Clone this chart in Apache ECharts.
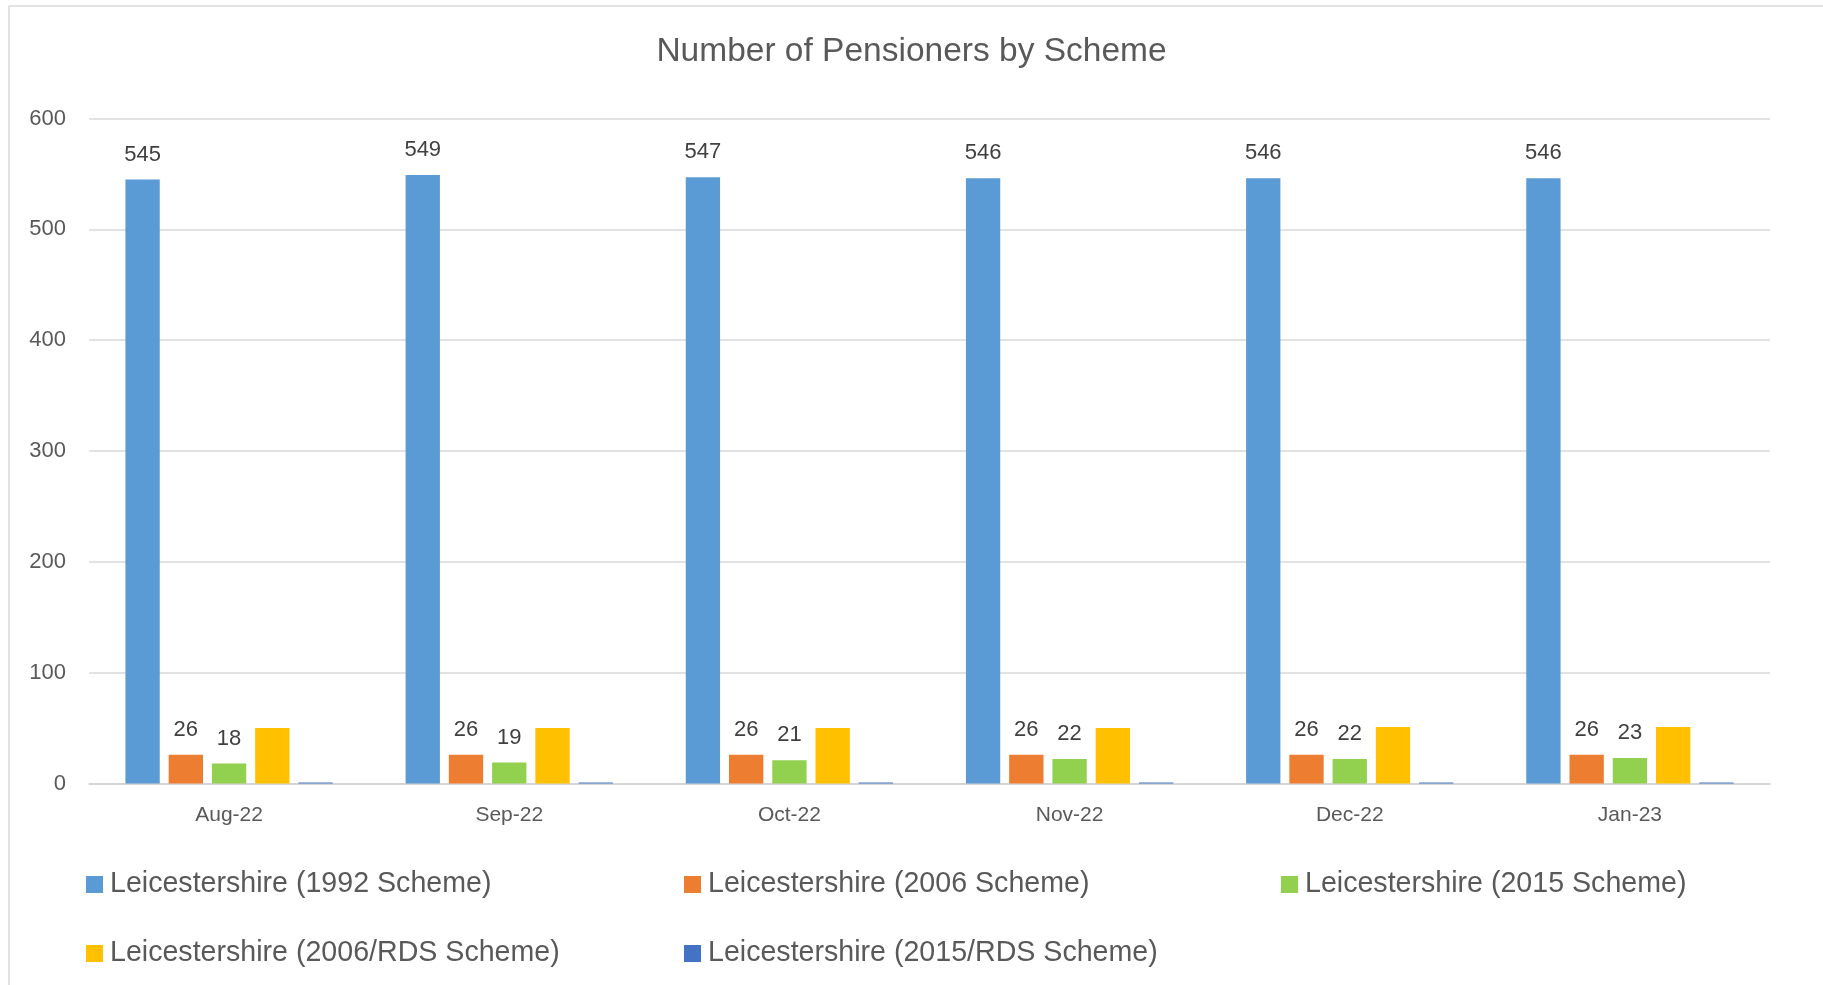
<!DOCTYPE html>
<html>
<head>
<meta charset="utf-8">
<title>Number of Pensioners by Scheme</title>
<script src="https://cdn.jsdelivr.net/npm/echarts@6/dist/echarts.min.js"></script>
<style>
  html, body { margin: 0; padding: 0; background: #fff; }
  #chart { width: 1823px; height: 985px; }
</style>
</head>
<body>
<div id="chart"></div>
<script>
// months on the x axis
var months = ['Aug-22', 'Sep-22', 'Oct-22', 'Nov-22', 'Dec-22', 'Jan-23']

// series names
var schemeNames = [
  'Leicestershire (1992 Scheme)',
  'Leicestershire (2006 Scheme)',
  'Leicestershire (2015 Scheme)',
  'Leicestershire (2006/RDS Scheme)',
  'Leicestershire (2015/RDS Scheme)'
]

// values
var scheme1992 = [545, 549, 547, 546, 546, 546]
var scheme2006 = [26, 26, 26, 26, 26, 26]
var scheme2015 = [18, 19, 21, 22, 22, 23]
var scheme2006Rds = [50, 50, 50, 50, 51, 51]
var scheme2015Rds = [1, 1, 1, 1, 1, 1]

var yTicks = [0, 100, 200, 300, 400, 500, 600]

var colors = ['#5B9BD5', '#ED7D31', '#92D050', '#FFC000', '#4472C4']
var font = '"Liberation Sans", Arial, sans-serif'

function barSeries (idx, values, showLabel) {
  return {
    name: schemeNames[idx],
    type: 'bar',
    data: values,
    barGap: '26%',
    barCategoryGap: '26%',
    itemStyle: { color: colors[idx] },
    label: {
      show: showLabel,
      position: 'top',
      distance: 14,
      color: '#404040',
      fontSize: 22,
      fontFamily: font
    },
    emphasis: { disabled: true }
  }
}

// one legend per item so they line up in columns like the original
var legendPos = [
  { left: 86, top: 870 },
  { left: 684, top: 870 },
  { left: 1281, top: 870 },
  { left: 86, top: 939 },
  { left: 684, top: 939 }
]
var legends = legendPos.map(function (p, i) {
  return {
    data: [schemeNames[i]],
    left: p.left,
    top: p.top,
    padding: 0,
    itemWidth: 17,
    itemHeight: 17,
    icon: 'rect',
    textStyle: {
      color: '#595959',
      fontSize: 28.6,
      fontFamily: font,
      lineHeight: 29,
      padding: [0, 0, 0, 2]
    }
  }
})

var chart = echarts.init(document.getElementById('chart'))
chart.setOption({
  animation: false,
  color: colors,
  title: {
    text: 'Number of Pensioners by Scheme',
    left: 'center',
    top: 35,
    padding: 0,
    textStyle: {
      color: '#595959',
      fontSize: 33.5,
      fontWeight: 'normal',
      fontFamily: font
    }
  },
  graphic: [{
    type: 'rect',
    shape: { x: 9, y: 6, width: 2000, height: 2000 },
    style: { fill: 'none', stroke: '#d9d9d9', lineWidth: 1.5 },
    silent: true
  }],
  legend: legends,
  grid: {
    left: 89,
    right: 53,
    top: 118.5,
    bottom: 201.5,
    containLabel: false
  },
  xAxis: {
    type: 'category',
    data: months,
    axisLine: { lineStyle: { color: '#d0d0d0', width: 1.5 } },
    axisTick: { show: false },
    axisLabel: {
      color: '#595959',
      fontSize: 21,
      fontFamily: font,
      margin: 21
    }
  },
  yAxis: {
    type: 'value',
    min: yTicks[0],
    max: yTicks[yTicks.length - 1],
    interval: 100,
    axisLine: { show: false },
    axisTick: { show: false },
    splitLine: { lineStyle: { color: '#d9d9d9', width: 1.5 } },
    axisLabel: {
      color: '#595959',
      fontSize: 22,
      fontFamily: font,
      margin: 23
    }
  },
  series: [
    barSeries(0, scheme1992, true),
    barSeries(1, scheme2006, true),
    barSeries(2, scheme2015, true),
    barSeries(3, scheme2006Rds, false),
    barSeries(4, scheme2015Rds, false)
  ]
})
</script>
</body>
</html>
